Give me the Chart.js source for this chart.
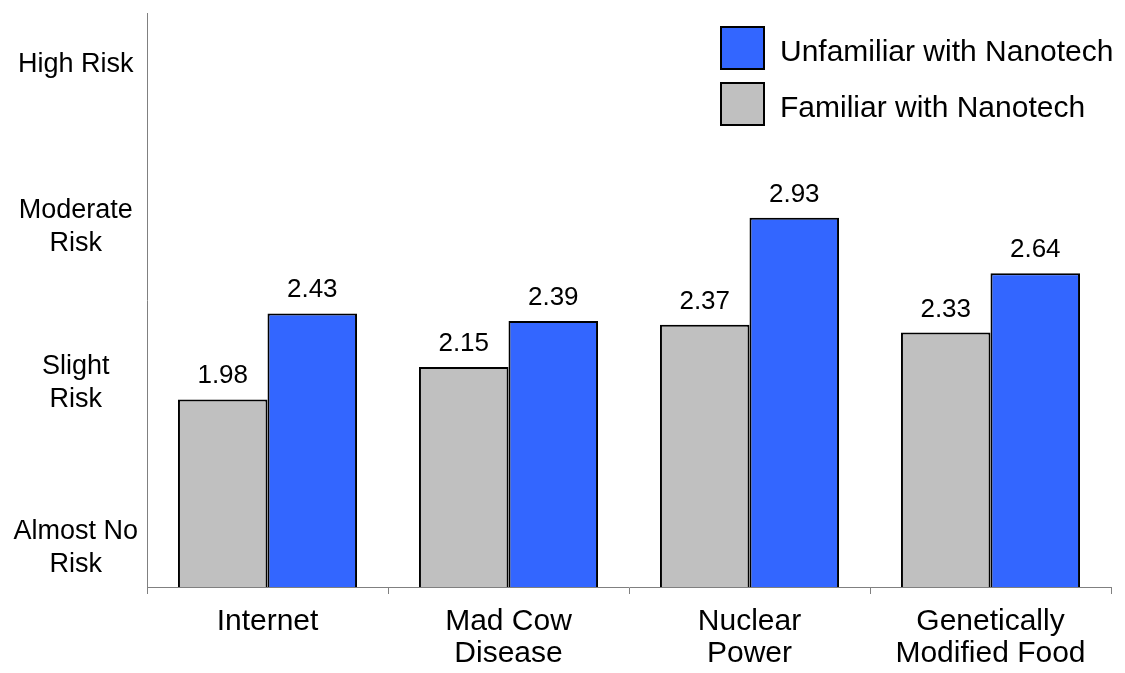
<!DOCTYPE html>
<html lang="en">

<head>
    <meta charset="UTF-8">
    <title>Risk perception</title>
    <style>
        body { margin: 0; background: #fff; }
    </style>
</head>

<body>
    <canvas id="grafico" width="1125" height="673"></canvas>

    <script src="https://cdn.jsdelivr.net/npm/chart.js"></script>
    <script>
        const categorias = [['Internet'], ['Mad Cow', 'Disease'], ['Nuclear', 'Power'], ['Genetically', 'Modified Food']]
        const familiar = [1.98, 2.15, 2.37, 2.33]
        const unfamiliar = [2.43, 2.39, 2.93, 2.64]
        // where the risk words sit on the 1-4 scale
        const posicoesY = [1.203, 2.064, 2.882, 3.73]
        const rotulosY = [['Almost No', 'Risk'], ['Slight', 'Risk'], ['Moderate', 'Risk'], 'High Risk']

        const fonte = '"Liberation Sans", Arial, sans-serif'
        const cinzaEixo = '#808080'

        // numbers above each bar
        const valoresPlugin = {
            id: 'valores',
            afterDatasetsDraw(chart) {
                const ctx = chart.ctx
                ctx.save()
                ctx.font = '26px ' + fonte
                ctx.fillStyle = '#000'
                ctx.textAlign = 'center'
                ctx.textBaseline = 'alphabetic'
                chart.data.datasets.forEach((ds, i) => {
                    chart.getDatasetMeta(i).data.forEach((bar, j) => {
                        ctx.fillText(ds.data[j].toFixed(2), bar.x, bar.y - 16)
                    })
                })
                ctx.restore()
            }
        }

        // legend box in the top right, unfamiliar first
        const legendaPlugin = {
            id: 'legenda',
            afterDraw(chart) {
                const ctx = chart.ctx
                const lista = chart.data.datasets.slice().reverse()
                ctx.save()
                ctx.font = '30px ' + fonte
                ctx.textAlign = 'left'
                ctx.textBaseline = 'middle'
                lista.forEach((ds, i) => {
                    const y = 27 + i * 56
                    ctx.fillStyle = ds.backgroundColor
                    ctx.fillRect(721, y, 43, 42)
                    ctx.lineWidth = 2
                    ctx.strokeStyle = '#000'
                    ctx.strokeRect(721, y, 43, 42)
                    ctx.fillStyle = '#000'
                    ctx.fillText(ds.label, 780, y + 26)
                })
                ctx.restore()
            }
        }

        const ctx = document.getElementById('grafico')

        let grafico = new Chart(ctx, {
            type: 'bar',
            data: {
                labels: categorias,
                datasets: [{
                    label: 'Familiar with Nanotech',
                    data: familiar,
                    backgroundColor: '#C0C0C0',
                    borderColor: '#000',
                    borderWidth: 2,
                    borderSkipped: false
                }, {
                    label: 'Unfamiliar with Nanotech',
                    data: unfamiliar,
                    backgroundColor: '#3366FF',
                    borderColor: '#000',
                    borderWidth: 2,
                    borderSkipped: false
                }]
            },
            options: {
                responsive: false,
                animation: false,
                layout: { padding: { top: 13, right: 14, left: 0, bottom: 0 } },
                plugins: {
                    legend: { display: false },
                    tooltip: { enabled: false }
                },
                datasets: {
                    bar: { categoryPercentage: 0.743, barPercentage: 1.0 }
                },
                scales: {
                    x: {
                        grid: {
                            offset: true,
                            drawOnChartArea: false,
                            drawTicks: true,
                            tickLength: 7,
                            color: cinzaEixo
                        },
                        border: { color: cinzaEixo, width: 1 },
                        ticks: {
                            color: '#000',
                            padding: 12,
                            maxRotation: 0,
                            autoSkip: false,
                            font: { family: fonte, size: 30, lineHeight: 1.07 }
                        },
                        afterFit: (scale) => {
                            scale.height = 86
                            scale.paddingLeft = 0
                            scale.paddingRight = 0
                        }
                    },
                    y: {
                        min: 1,
                        max: 4,
                        grid: { drawOnChartArea: false, drawTicks: false },
                        border: { color: cinzaEixo, width: 1 },
                        afterBuildTicks: (scale) => {
                            scale.ticks = posicoesY.map(v => ({ value: v }))
                        },
                        ticks: {
                            color: '#000',
                            padding: 9,
                            crossAlign: 'center',
                            font: { family: fonte, size: 27, lineHeight: 1.22 },
                            callback: (valor, i) => rotulosY[i]
                        },
                        afterFit: (scale) => {
                            scale.width = 147
                            scale.paddingTop = 0
                            scale.paddingBottom = 0
                        }
                    }
                }
            },
            plugins: [valoresPlugin, legendaPlugin]
        });
    </script>
</body>

</html>
